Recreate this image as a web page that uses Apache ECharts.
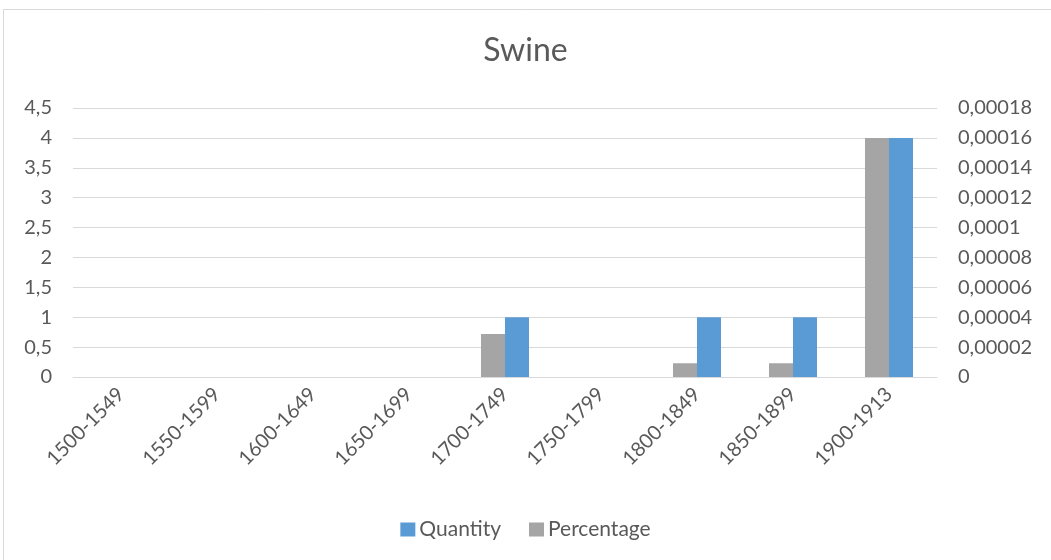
<!DOCTYPE html>
<html>
<head>
<meta charset="utf-8">
<script src="https://cdn.jsdelivr.net/npm/echarts@6/dist/echarts.min.js"></script>
<style>
html,body{margin:0;padding:0;background:#fff;}
#chart{width:1051px;height:560px;}
</style>
</head>
<body>
<div id="chart"></div>
<script>
const categories = ['1500-1549','1550-1599','1600-1649','1650-1699','1700-1749','1750-1799','1800-1849','1850-1899','1900-1913'];
const quantity = [0,0,0,0,1,0,1,1,4];
const percentage = [0,0,0,0,0.0000288,0,0.0000092,0.0000092,0.00016];
const leftTicks = {min:0, max:4.5, interval:0.5};
const rightTicks = {min:0, max:0.00018, interval:0.00002};

const txt = '#595959';
const font = 'Lato, "Open Sans", sans-serif';
const fmt = v => String(Number(v.toPrecision(10))).replace('.', ',');

const chart = echarts.init(document.getElementById('chart'));
chart.setOption({
  animation:false,
  backgroundColor:'#fff',
  textStyle:{fontFamily:font},
  graphic:[{type:'rect', shape:{x:3.5,y:9.5,width:1100,height:600}, style:{fill:'none', stroke:'#d9d9d9', lineWidth:1}, silent:true}],
  title:{text:'Swine', left:'center', top:30, textStyle:{color:txt, fontSize:32, fontWeight:'normal', fontFamily:font}},
  legend:{bottom:15, left:'center', data:['Quantity','Percentage'], itemWidth:15, itemHeight:14, itemGap:28, icon:'rect',
    textStyle:{color:txt, fontSize:21, fontFamily:font, padding:[0,0,0,-1]}},
  grid:{left:73, right:114, top:108, bottom:183, containLabel:false},
  xAxis:{type:'category', data:categories,
    axisLine:{lineStyle:{color:'#d9d9d9', width:1}}, axisTick:{show:false},
    axisLabel:{color:txt, fontSize:20, rotate:45, margin:14, interval:0, fontFamily:font}},
  yAxis:[
    {type:'value', min:leftTicks.min, max:leftTicks.max, interval:leftTicks.interval, position:'left',
     axisLine:{show:false}, axisTick:{show:false},
     splitLine:{lineStyle:{color:'#d9d9d9', width:1}},
     axisLabel:{color:txt, fontSize:20, margin:21, formatter:fmt, fontFamily:font}},
    {type:'value', min:rightTicks.min, max:rightTicks.max, interval:rightTicks.interval, position:'right',
     axisLine:{show:false}, axisTick:{show:false}, splitLine:{show:false},
     axisLabel:{color:txt, fontSize:20, margin:21, formatter:fmt, fontFamily:font}}
  ],
  series:[
    {name:'Percentage', type:'bar', yAxisIndex:1, data:percentage, barWidth:24, barGap:'0%', itemStyle:{color:'#a5a5a5'}},
    {name:'Quantity', type:'bar', yAxisIndex:0, data:quantity, barWidth:24, barGap:'0%', itemStyle:{color:'#5b9bd5'}}
  ]
});
</script>
</body>
</html>
